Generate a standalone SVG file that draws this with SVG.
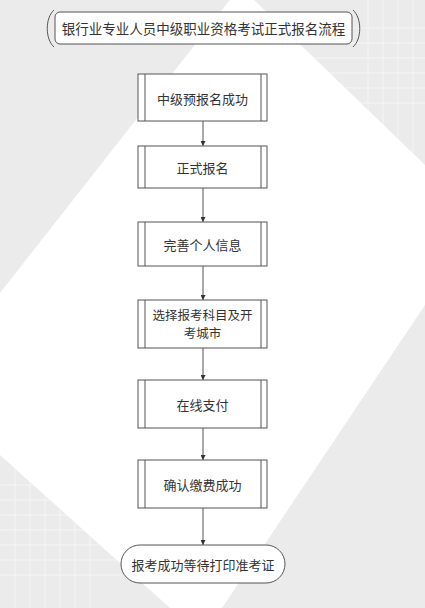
<svg xmlns="http://www.w3.org/2000/svg" width="425" height="608" viewBox="0 0 425 608">
<defs>
<style>
.bx{fill:#fff;stroke:#555;stroke-width:1}
.ln{stroke:#555;stroke-width:1;fill:none}
.t{font-family:"Noto Sans CJK SC","Noto Sans",sans-serif;font-size:13px;fill:#333;text-anchor:middle;dominant-baseline:central}
.t2{font-size:12.5px}
.grid{stroke:#fff;stroke-width:1;opacity:0.5}
</style>
<marker id="ah" viewBox="0 0 6 6" refX="6" refY="3" markerWidth="5" markerHeight="5" orient="auto" markerUnits="userSpaceOnUse">
<path d="M0,0 L6,3 L0,6 Z" fill="#333"/>
</marker>
<clipPath id="tr"><polygon points="254,0 425,0 425,165"/></clipPath>
<clipPath id="bl"><polygon points="0,455 170,608 0,608"/></clipPath>
</defs>
<g id="background">
<rect x="0" y="0" width="425" height="608" fill="#ebebeb"/>
<polygon points="230,0 254,0 425,165 425,305 222,608 170,608 0,455 0,293" fill="#ffffff"/>
<g clip-path="url(#tr)" class="grid">
<path d="M368,0V160M383,0V160M398,0V160M413,0V160M300,28H425M300,43H425M300,58H425M300,73H425M300,88H425M300,103H425"/>
</g>
<g clip-path="url(#bl)" class="grid">
<path d="M15,450V608M30,450V608M45,450V608M60,450V608M75,450V608M90,450V608M0,485H170M0,500H170M0,515H170M0,530H170M0,545H170M0,560H170M0,575H170"/>
</g>
</g>
<g id="title">
<rect class="bx" x="55" y="12" width="297" height="32" rx="5"/>
<path class="ln" d="M54,10 C45,18 45,39 54,47"/>
<path class="ln" d="M353,10 C362,18 362,39 353,47"/>
<text class="t" x="203.5" y="28" style="font-size:13.5px">银行业专业人员中级职业资格考试正式报名流程</text>
</g>
<g id="connectors">
<line class="ln" x1="203" y1="121" x2="203" y2="146" marker-end="url(#ah)"/>
<line class="ln" x1="203" y1="188" x2="203" y2="222" marker-end="url(#ah)"/>
<line class="ln" x1="203" y1="266" x2="203" y2="300" marker-end="url(#ah)"/>
<line class="ln" x1="203" y1="348" x2="203" y2="380" marker-end="url(#ah)"/>
<line class="ln" x1="203" y1="428" x2="203" y2="460" marker-end="url(#ah)"/>
<line class="ln" x1="203" y1="508" x2="203" y2="545" marker-end="url(#ah)"/>
</g>
<g id="n1">
<rect class="bx" x="138" y="74" width="129" height="47"/>
<path class="ln" d="M145,74V121M261,74V121"/>
<text class="t" x="202.5" y="98">中级预报名成功</text>
</g>
<g id="n2">
<rect class="bx" x="138" y="146" width="129" height="42"/>
<path class="ln" d="M145,146V188M261,146V188"/>
<text class="t" x="202.5" y="167">正式报名</text>
</g>
<g id="n3">
<rect class="bx" x="138" y="222" width="129" height="44"/>
<path class="ln" d="M145,222V266M261,222V266"/>
<text class="t" x="202.5" y="244">完善个人信息</text>
</g>
<g id="n4">
<rect class="bx" x="138" y="300" width="129" height="48"/>
<path class="ln" d="M145,300V348M261,300V348"/>
<text class="t t2" x="202.5" y="314">选择报考科目及开</text>
<text class="t t2" x="202.5" y="332.5">考城市</text>
</g>
<g id="n5">
<rect class="bx" x="138" y="380" width="129" height="48"/>
<path class="ln" d="M145,380V428M261,380V428"/>
<text class="t" x="202.5" y="404">在线支付</text>
</g>
<g id="n6">
<rect class="bx" x="138" y="460" width="129" height="48"/>
<path class="ln" d="M145,460V508M261,460V508"/>
<text class="t" x="202.5" y="484">确认缴费成功</text>
</g>
<g id="n7">
<rect class="bx" x="121" y="545" width="164" height="38" rx="19"/>
<text class="t" x="203" y="564">报考成功等待打印准考证</text>
</g>
</svg>
